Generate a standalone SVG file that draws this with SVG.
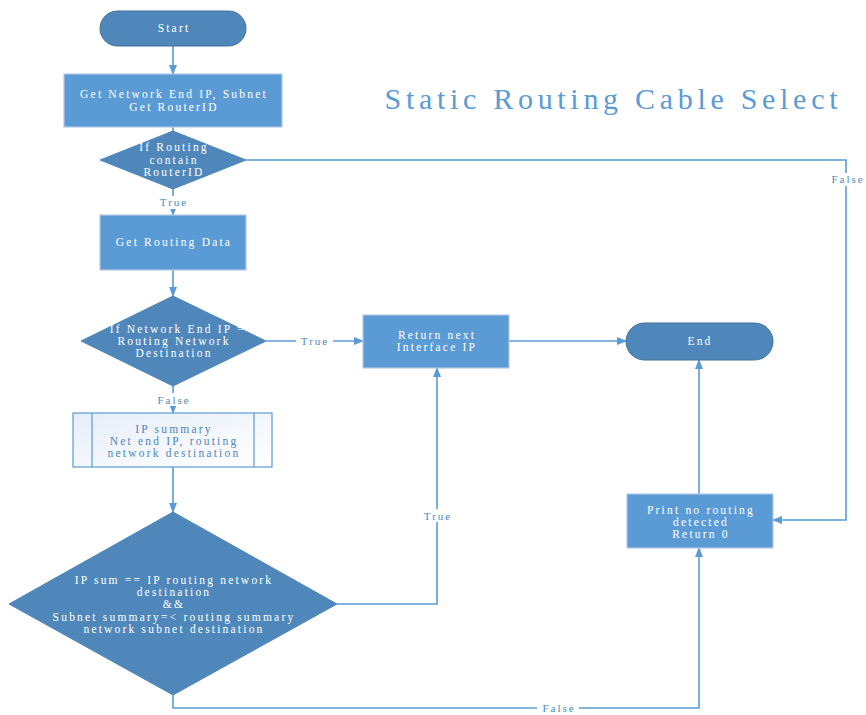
<svg xmlns="http://www.w3.org/2000/svg" width="866" height="715" viewBox="0 0 866 715">
<style>
.pill{fill:#4F87BA;stroke:#41719C;stroke-width:1}
.box{fill:#5B9BD5;stroke:#B4C7E7;stroke-width:1.2}
.dia{fill:#4F87BA;stroke:#4F87BA;stroke-width:1}
.t{font-family:"Liberation Serif","Times New Roman",Tinos,"DejaVu Serif",serif;font-size:11.5px;fill:#fff;text-anchor:middle;letter-spacing:2.2px}
.lbl{font-family:"Liberation Serif","Times New Roman",Tinos,"DejaVu Serif",serif;font-size:11px;fill:#4F87BA;text-anchor:middle;letter-spacing:2px}
.title{font-family:"Liberation Serif","Times New Roman",Tinos,"DejaVu Serif",serif;font-size:30px;fill:#5B9BD5;text-anchor:middle}
.c{fill:none;stroke:#5B9BD5;stroke-width:1.6}
</style>
<defs>
<marker id="ah" markerWidth="10" markerHeight="8" refX="9" refY="4" orient="auto" markerUnits="userSpaceOnUse">
<path d="M0,0 L10,4 L0,8 Z" fill="#5B9BD5"/>
</marker>
<linearGradient id="sg" x1="0" y1="0" x2="1" y2="1">
<stop offset="0" stop-color="#E6EEF8"/>
<stop offset="1" stop-color="#FFFFFF"/>
</linearGradient>
</defs>
<rect width="866" height="715" fill="#fff"/>
<text class="title" x="611" y="109" textLength="453" lengthAdjust="spacing">Static Routing Cable Select</text>
<g id="connectors">
<line class="c" x1="173" y1="46" x2="173" y2="74" marker-end="url(#ah)"/>
<line class="c" x1="173" y1="127" x2="173" y2="131"/>
<line class="c" x1="173" y1="189" x2="173" y2="215" marker-end="url(#ah)"/>
<line class="c" x1="173" y1="270" x2="173" y2="296" marker-end="url(#ah)"/>
<line class="c" x1="173" y1="386" x2="173" y2="413" marker-end="url(#ah)"/>
<line class="c" x1="173" y1="467" x2="173" y2="512" marker-end="url(#ah)"/>
<line class="c" x1="266" y1="341" x2="363" y2="341" marker-end="url(#ah)"/>
<line class="c" x1="509" y1="341" x2="626" y2="341" marker-end="url(#ah)"/>
<polyline class="c" points="246,160 846,160 846,520 773,520" marker-end="url(#ah)"/>
<polyline class="c" points="337,604 437,604 437,368" marker-end="url(#ah)"/>
<polyline class="c" points="173,695 173,708 699,708 699,548" marker-end="url(#ah)"/>
<line class="c" x1="699" y1="494" x2="699" y2="360" marker-end="url(#ah)"/>
<rect x="155" y="196" width="36" height="13" fill="#fff"/>
<text class="lbl" x="174" y="206">True</text>
<rect x="296" y="334" width="37" height="13" fill="#fff"/>
<text class="lbl" x="315" y="345">True</text>
<rect x="152" y="393" width="42" height="13" fill="#fff"/>
<text class="lbl" x="174" y="404">False</text>
<rect x="827" y="173" width="39" height="13" fill="#fff"/>
<text class="lbl" x="848" y="183">False</text>
<rect x="418" y="509" width="38" height="13" fill="#fff"/>
<text class="lbl" x="438" y="520">True</text>
<rect x="537" y="702" width="42" height="13" fill="#fff"/>
<text class="lbl" x="559" y="712">False</text>
</g>
<g id="start">
<rect class="pill" x="100" y="11" width="146" height="35" rx="17.5"/>
<text class="t" x="174" y="32">Start</text>
</g>
<g id="get-network">
<rect class="box" x="64" y="74" width="218" height="53"/>
<text class="t" x="174" y="98">Get Network End IP, Subnet</text>
<text class="t" x="174" y="111">Get RouterID</text>
</g>
<g id="if-routing">
<polygon class="dia" points="173,131 246,160 173,189 100,160"/>
<text class="t" x="174" y="151">If Routing</text>
<text class="t" x="174" y="164">contain</text>
<text class="t" x="174" y="176">RouterID</text>
</g>
<g id="get-routing-data">
<rect class="box" x="100" y="215" width="146" height="55"/>
<text class="t" x="174" y="246">Get Routing Data</text>
</g>
<g id="if-network">
<polygon class="dia" points="173,296 266,341 173,386 81,341"/>
<text class="t" x="182" y="333">If Network End IP ==</text>
<text class="t" x="174" y="345">Routing Network</text>
<text class="t" x="174" y="357">Destination</text>
</g>
<g id="ip-summary">
<rect x="73" y="413" width="199" height="54" fill="url(#sg)" stroke="#5B9BD5" stroke-width="1.2"/>
<line x1="92" y1="413" x2="92" y2="467" stroke="#5B9BD5" stroke-width="1.2"/>
<line x1="254" y1="413" x2="254" y2="467" stroke="#5B9BD5" stroke-width="1.2"/>
<text class="t" x="174" y="433" style="fill:#4F87BA">IP summary</text>
<text class="t" x="174" y="445" style="fill:#4F87BA">Net end IP, routing</text>
<text class="t" x="174" y="457" style="fill:#4F87BA">network destination</text>
</g>
<g id="ip-sum-check">
<polygon class="dia" points="173,512 337,604 173,695 9,604"/>
<text class="t" x="174" y="584">IP sum == IP routing network</text>
<text class="t" x="174" y="596">destination</text>
<text class="t" x="174" y="608">&amp;&amp;</text>
<text class="t" x="174" y="621">Subnet summary=&lt; routing summary</text>
<text class="t" x="174" y="633">network subnet destination</text>
</g>
<g id="return-next">
<rect class="box" x="363" y="315" width="146" height="53"/>
<text class="t" x="437" y="339">Return next</text>
<text class="t" x="437" y="351">Interface IP</text>
</g>
<g id="end">
<rect class="pill" x="626" y="323" width="147" height="37" rx="18.5"/>
<text class="t" x="700" y="345">End</text>
</g>
<g id="print-no-routing">
<rect class="box" x="627" y="494" width="146" height="54"/>
<text class="t" x="701" y="514">Print no routing</text>
<text class="t" x="701" y="526">detected</text>
<text class="t" x="701" y="538">Return 0</text>
</g>
</svg>
